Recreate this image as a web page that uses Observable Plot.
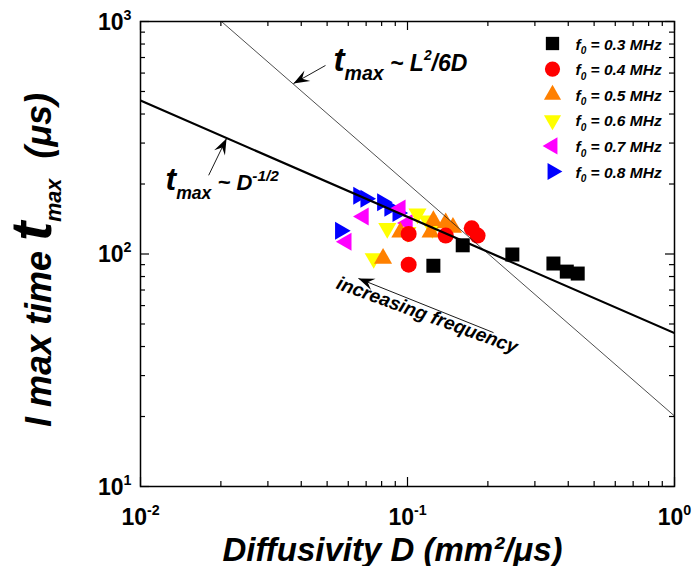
<!DOCTYPE html>
<html><head><meta charset="utf-8">
<script src="https://cdn.jsdelivr.net/npm/d3@7"></script>
<script src="https://cdn.jsdelivr.net/npm/@observablehq/plot@0.6"></script>
<style>html,body{margin:0;padding:0;background:#fff}#chart svg{display:block}</style>
</head><body><div id="chart"></div>
<script>
// ---------- data ----------
const frequencies = ["0.3", "0.4", "0.5", "0.6", "0.7", "0.8"];
const colors = ["#000000", "#ff0000", "#ff8000", "#ffff00", "#ff00ff", "#0000ff"];
const shapes = ["square", "circle", "triangleUp", "triangleDown", "triangleLeft", "triangleRight"];

const D_03 = [0.125, 0.161, 0.247, 0.352, 0.395, 0.434];
const t_03 = [89, 109, 99.5, 91, 84, 82.4];
const D_04 = [0.101, 0.101, 0.139, 0.174, 0.183];
const t_04 = [90, 122, 120, 129, 120];
const D_05 = [0.081, 0.094, 0.122, 0.125, 0.139, 0.148];
const t_05 = [95.7, 124, 124, 139, 136, 130];
const D_06 = [0.0747, 0.084, 0.100, 0.109, 0.119, 0.124];
const t_06 = [95.7, 129, 124, 149, 139, 129];
const D_07 = [0.059, 0.0684, 0.094, 0.100];
const t_07 = [113, 145, 157, 136];
const D_08 = [0.056, 0.0655, 0.0697, 0.0805, 0.0857, 0.0919];
const t_08 = [126, 178, 173, 167, 158, 150];
const seriesD = [D_03, D_04, D_05, D_06, D_07, D_08];
const seriesT = [t_03, t_04, t_05, t_06, t_07, t_08];

// fitted power laws t = a * D^p
const fitHalfA = 45.7, fitHalfP = -0.5;   // t ~ D^-1/2
const fitDiffA = 20.1, fitDiffP = -1;     // t ~ L^2/6D
const fitLineD = [0.01, 1];

const xTicksMajor = [0.01, 0.1, 1];
const xTickLabels = ["10|^-2", "10|^-1", "10|^0"];
const xTicksMinor = [0.02, 0.03, 0.04, 0.05, 0.06, 0.07, 0.08, 0.09, 0.2, 0.3, 0.4, 0.5, 0.6, 0.7, 0.8, 0.9];
const yTicksMajor = [10, 100, 1000];
const yTickLabels = ["10|^1", "10|^2", "10|^3"];
const yTicksMinor = [20, 30, 40, 50, 60, 70, 80, 90, 200, 300, 400, 500, 600, 700, 800, 900];

const annLabels = ["!t|_max| ~ L|^2|/6D", "!t|_max| ~ D|^-1/2", "increasing frequency"];
const annD = [0.0528, 0.01241, 0.1185];
const annT = [615, 187.6, 54.5];

const arrowTailD = [0.0493, 0.0180, 0.210];
const arrowTailT = [647, 218, 45.9];
const arrowHeadD = [0.0374, 0.0210, 0.0655];
const arrowHeadT = [541, 314, 78.5];

const xTitle = "Diffusivity D (mm²/μs)";
const yTitle = "I max time |!t|_max|  (μs)";

// ---------- layout ----------
const W = 694, H = 566, mL = 140, mR = 20, mT = 21, mB = 80;
const pw = W - mL - mR, ph = H - mT - mB;
const font = "'Liberation Sans', Arial, Helvetica, sans-serif";

function tri(rot) {
  return {draw(ctx, size) {
    const y = -Math.sqrt(size / (Math.sqrt(3) * 3));
    const pts = [[0, y * 2], [-Math.sqrt(3) * y, -y], [Math.sqrt(3) * y, -y]];
    const c = Math.cos(rot), s = Math.sin(rot);
    pts.forEach(([px, py], i) => {
      const X = px * c - py * s, Y = px * s + py * c;
      i ? ctx.lineTo(X, Y) : ctx.moveTo(X, Y);
    });
    ctx.closePath();
  }};
}
function stealth(deg, L = 16, Wd = 6) {
  const a = deg * Math.PI / 180, c = Math.cos(a), s = Math.sin(a);
  const pts = [[0, 0], [-L, -Wd], [-L * 0.62, 0], [-L, Wd]];
  return {draw(ctx) {
    pts.forEach(([px, py], i) => {
      const X = px * c - py * s, Y = px * s + py * c;
      i ? ctx.lineTo(X, Y) : ctx.moveTo(X, Y);
    });
    ctx.closePath();
  }};
}
const symbolFor = {
  square: "square", circle: "circle",
  triangleUp: tri(0), triangleDown: tri(Math.PI),
  triangleLeft: tri(-Math.PI / 2), triangleRight: tri(Math.PI / 2)
};
const rFor = {square: 7.9, circle: 8, triangleUp: 6.7, triangleDown: 6.7, triangleLeft: 6.7, triangleRight: 6.7};

const arrows = arrowTailD.map((d, i) => {
  const dx = (Math.log10(arrowHeadD[i]) - Math.log10(d)) * pw / 2;
  const dy = -(Math.log10(arrowHeadT[i]) - Math.log10(arrowTailT[i])) * ph / 2;
  return {x1: d, y1: arrowTailT[i], x2: arrowHeadD[i], y2: arrowHeadT[i], angle: Math.atan2(dy, dx) * 180 / Math.PI};
});

const bi = {fontWeight: "bold", fontStyle: "italic"};
const marks = [];

// data points (higher frequency drawn first)
for (let k = frequencies.length - 1; k >= 0; --k) {
  const pts = seriesD[k].map((d, i) => ({D: d, t: seriesT[k][i]}));
  marks.push(Plot.dot(pts, {x: "D", y: "t", symbol: symbolFor[shapes[k]], r: rFor[shapes[k]], fill: colors[k], stroke: "none"}));
}
// fit lines
marks.push(Plot.line(fitLineD, {x: d => d, y: d => fitDiffA * Math.pow(d, fitDiffP), stroke: "#222", strokeWidth: 0.8, clip: true}));
marks.push(Plot.line(fitLineD, {x: d => d, y: d => fitHalfA * Math.pow(d, fitHalfP), stroke: "#000", strokeWidth: 2.2, clip: true}));
// arrows
marks.push(Plot.link(arrows, {x1: "x1", y1: "y1", x2: "x2", y2: "y2", stroke: "#000", strokeWidth: 0.9}));
arrows.forEach(a => marks.push(Plot.dot([a], {x: "x2", y: "y2", symbol: stealth(a.angle), r: 5, fill: "#000", stroke: "none"})));
// annotations
marks.push(Plot.text([0], {x: () => annD[0], y: () => annT[0], text: () => annLabels[0], textAnchor: "start", lineAnchor: "bottom", fontSize: 23, ...bi}));
marks.push(Plot.text([0], {x: () => annD[1], y: () => annT[1], text: () => annLabels[1], textAnchor: "start", lineAnchor: "bottom", fontSize: 22, ...bi}));
marks.push(Plot.text([0], {x: () => annD[2], y: () => annT[2], text: () => annLabels[2], textAnchor: "middle", lineAnchor: "middle", rotate: 20, fontSize: 19, ...bi}));
// legend
frequencies.forEach((f, i) => {
  marks.push(Plot.dot([0], {frameAnchor: "top-right", dx: -122, dy: 22 + i * 25.6, symbol: symbolFor[shapes[i]], r: rFor[shapes[i]] * 0.95, fill: colors[i], stroke: "none"}));
  marks.push(Plot.text([`f|_0| = ${f} MHz`], {frameAnchor: "top-right", dx: -99, dy: 28 + i * 25.6, text: d => d, textAnchor: "start", lineAnchor: "bottom", fontSize: 15.5, ...bi}));
});
// ticks (inward, mirrored)
const tk = {stroke: "#000", strokeWidth: 1.2};
marks.push(Plot.tickX(xTicksMajor, {x: d => d, insetTop: ph - 9, ...tk}));
marks.push(Plot.tickX(xTicksMajor, {x: d => d, insetBottom: ph - 9, ...tk}));
marks.push(Plot.tickX(xTicksMinor, {x: d => d, insetTop: ph - 5, ...tk}));
marks.push(Plot.tickX(xTicksMinor, {x: d => d, insetBottom: ph - 5, ...tk}));
marks.push(Plot.tickY(yTicksMajor, {y: d => d, insetRight: pw - 9, ...tk}));
marks.push(Plot.tickY(yTicksMajor, {y: d => d, insetLeft: pw - 9, ...tk}));
marks.push(Plot.tickY(yTicksMinor, {y: d => d, insetRight: pw - 5, ...tk}));
marks.push(Plot.tickY(yTicksMinor, {y: d => d, insetLeft: pw - 5, ...tk}));
// tick labels
marks.push(Plot.text(xTicksMajor, {x: d => d, text: (d, i) => xTickLabels[i], frameAnchor: "bottom", dy: 38, lineAnchor: "bottom", textAnchor: "middle", fontSize: 23, fontWeight: "bold"}));
marks.push(Plot.text(yTicksMajor, {y: d => d, text: (d, i) => yTickLabels[i], frameAnchor: "left", dx: -9, dy: 8, lineAnchor: "bottom", textAnchor: "end", fontSize: 23, fontWeight: "bold"}));
// axis titles
marks.push(Plot.text([xTitle], {frameAnchor: "bottom", dx: -15, dy: 74, text: d => d, textAnchor: "middle", lineAnchor: "bottom", fontSize: 33, ...bi}));
marks.push(Plot.text([yTitle], {frameAnchor: "left", dx: -90, dy: 6, rotate: -90, text: d => d, textAnchor: "middle", lineAnchor: "bottom", fontSize: 36, ...bi}));
marks.push(Plot.frame({stroke: "#000", strokeWidth: 1.5}));

const svg = Plot.plot({
  width: W, height: H, marginLeft: mL, marginRight: mR, marginTop: mT, marginBottom: mB,
  x: {type: "log", domain: [0.01, 1], axis: null},
  y: {type: "log", domain: [10, 1000], axis: null},
  style: {fontFamily: font, background: "#fff", color: "#000", overflow: "visible"},
  marks
});
document.getElementById("chart").appendChild(svg);

// ---------- rich text (super/subscripts) ----------
const richOpts = {
  [yTitle]: {big: 1.6, sub: 0.6, subShift: 0.3},
  [annLabels[0]]: {big: 1.45, sub: 0.85, subShift: 0.42, sup: 0.6, supShift: -0.45},
  [annLabels[1]]: {big: 1.45, sub: 0.8, subShift: 0.4, sup: 0.7, supShift: -0.42}
};
d3.select(svg).selectAll("text").each(function () {
  const s = this.textContent;
  if (!s.includes("|")) return;
  const o = Object.assign({big: 1.3, sub: 0.65, subShift: 0.3, sup: 0.62, supShift: -0.42}, richOpts[s] || {});
  const base = parseFloat(getComputedStyle(this).fontSize);
  this.textContent = "";
  let shift = 0;
  for (const seg of s.split("|")) {
    if (!seg) continue;
    const kind = seg[0];
    let txt = seg.slice(1), size = base, target = 0;
    if (kind === "^") { size = base * o.sup; target = o.supShift * base; }
    else if (kind === "_") { size = base * o.sub; target = o.subShift * base; }
    else if (kind === "!") { size = base * o.big; }
    else { txt = seg; }
    const ts = document.createElementNS("http://www.w3.org/2000/svg", "tspan");
    ts.textContent = txt;
    ts.setAttribute("font-size", size);
    if (kind === "!") ts.setAttribute("font-weight", 900);
    if (target !== shift) ts.setAttribute("dy", target - shift);
    shift = target;
    this.appendChild(ts);
  }
});
</script></body></html>
